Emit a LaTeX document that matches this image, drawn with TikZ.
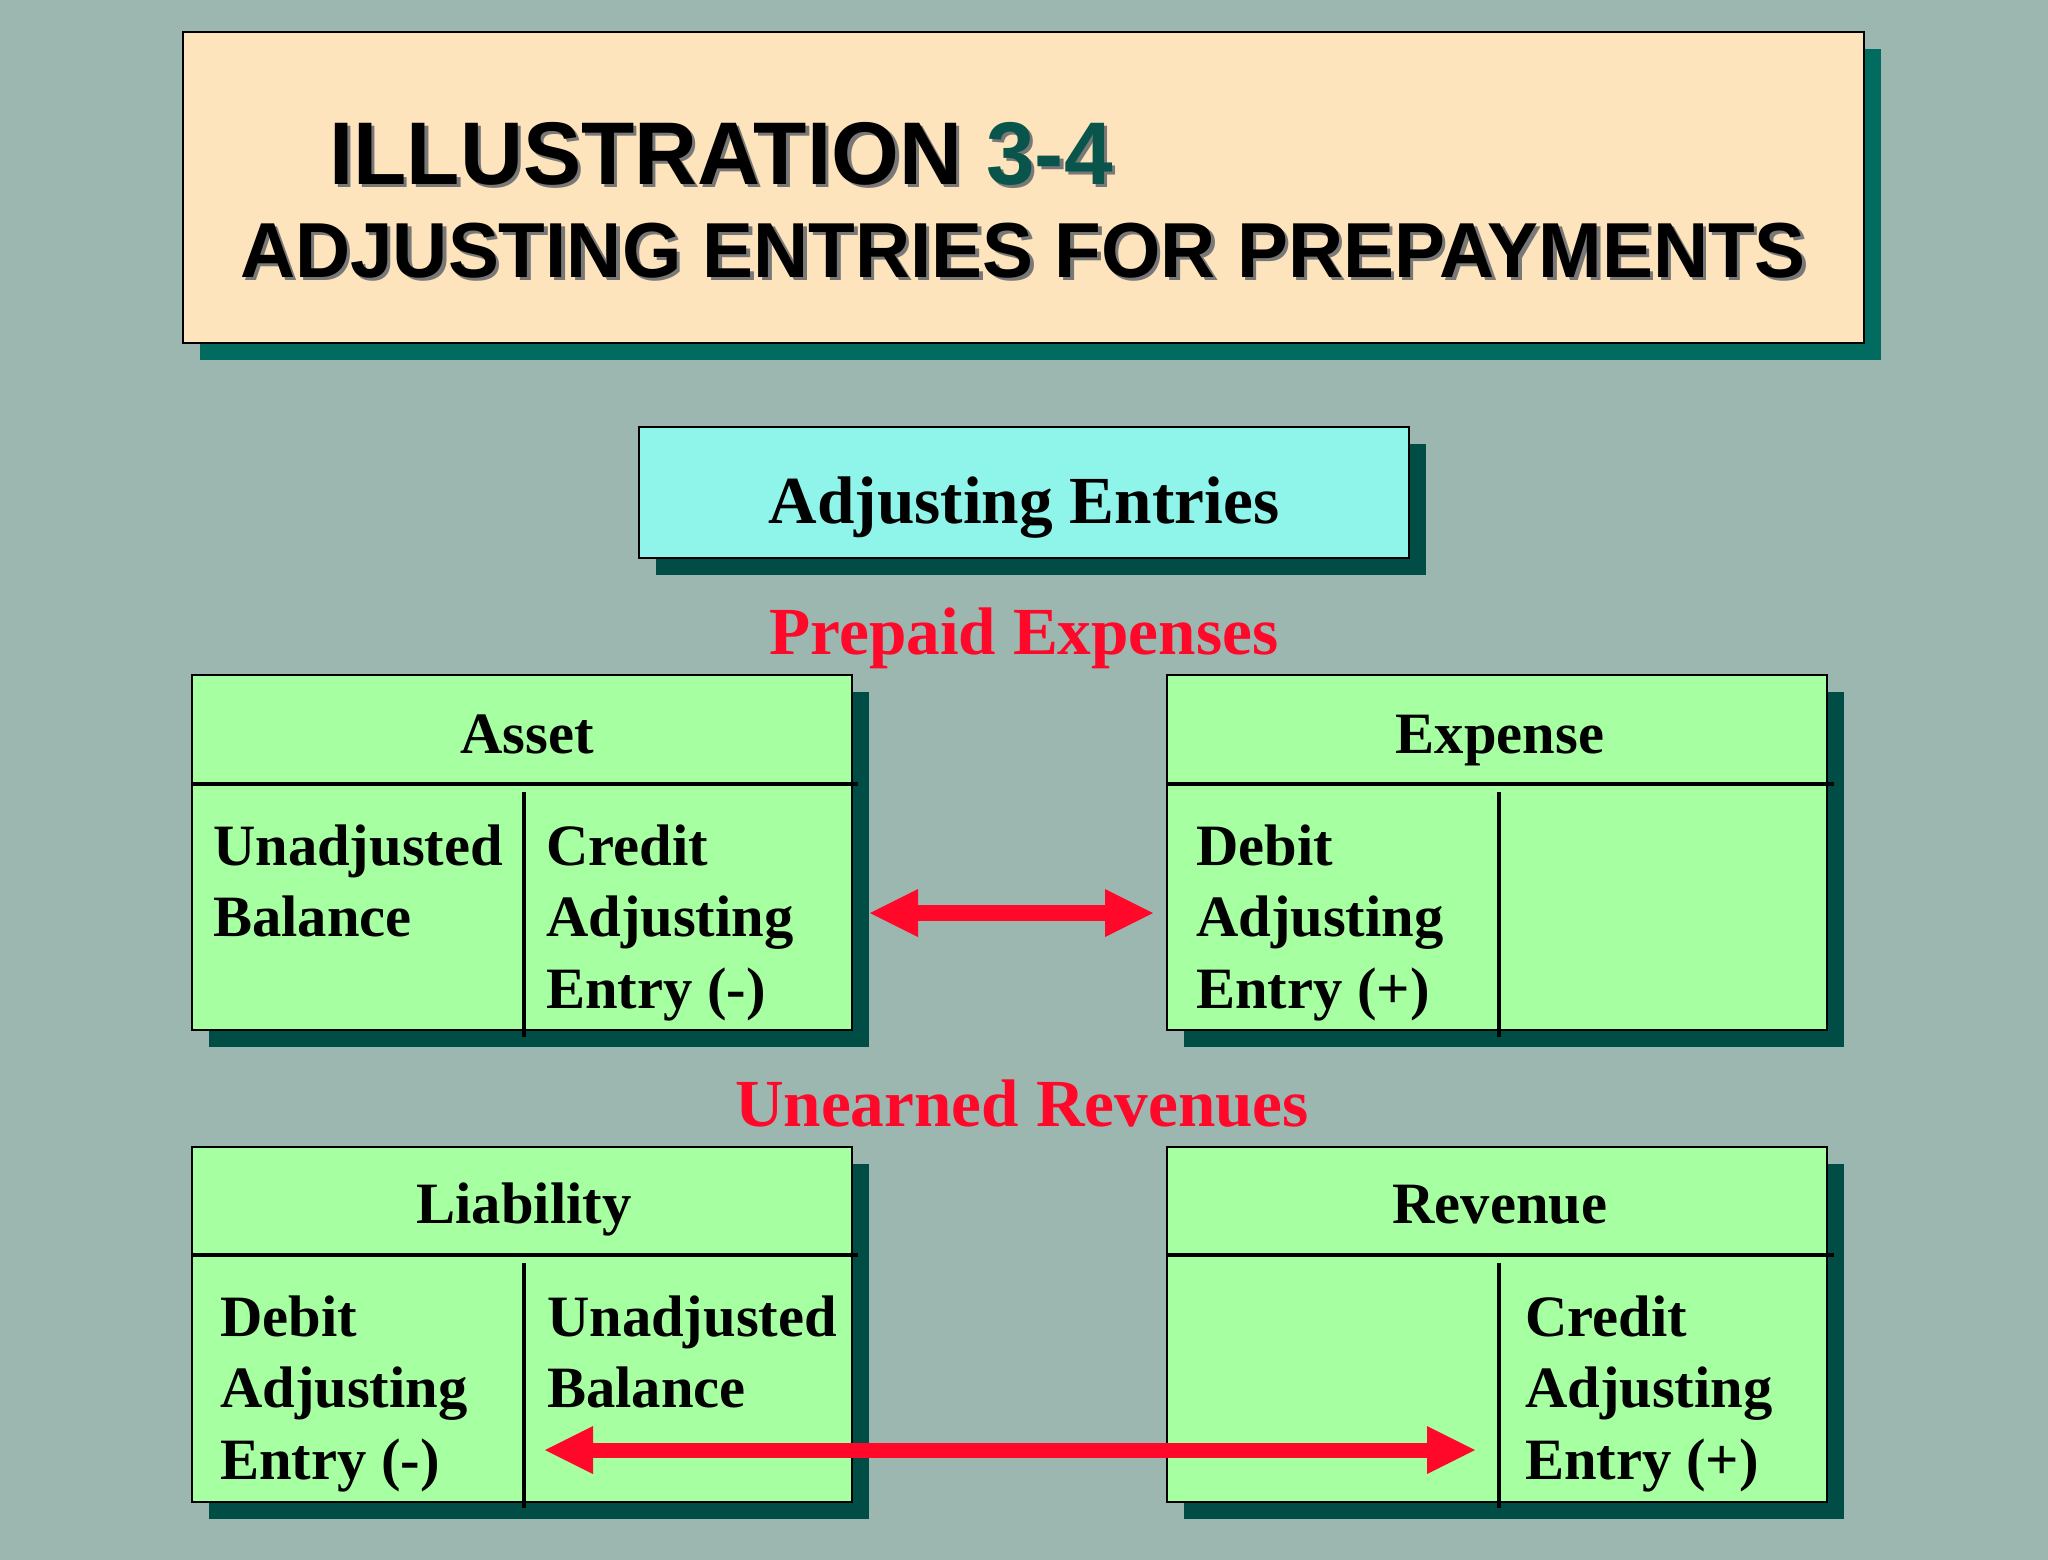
\documentclass[tikz,border=0pt]{standalone}
\usepackage{fontspec}
\setmainfont{Liberation Serif}
\newfontfamily\titlefont{Liberation Sans}
\usetikzlibrary{arrows.meta,shadows}
\definecolor{bg}{RGB}{155,183,176}
\definecolor{peach}{RGB}{253,228,188}
\definecolor{titleshadow}{RGB}{0,107,94}
\definecolor{aqua}{RGB}{143,245,235}
\definecolor{darkshadow}{RGB}{0,77,69}
\definecolor{tgreen}{RGB}{166,255,161}
\definecolor{redtxt}{RGB}{255,8,42}
\definecolor{numcol}{RGB}{10,85,75}
\definecolor{txtshadow}{RGB}{120,120,120}
\begin{document}
\begin{tikzpicture}[x=1pt,y=-1pt,
  box/.style={draw=black, line width=2.5pt, anchor=north west, inner sep=0pt, outer sep=0pt},
  shadowed/.style={general shadow={fill=#1, shadow xshift=17pt, shadow yshift=-17pt}},
  tacct/.style={box, fill=tgreen, shadowed=darkshadow, minimum width=660pt, minimum height=355pt},
  tline/.style={line width=4pt},
  body/.style={inner sep=0pt, anchor=base west, font=\bfseries\fontsize{58.6}{58.6}\selectfont},
  head/.style={inner sep=0pt, anchor=base, font=\bfseries\fontsize{58.6}{58.6}\selectfont},
  redlbl/.style={inner sep=0pt, anchor=base, text=redtxt, font=\bfseries\fontsize{67.3}{67.3}\selectfont},
  bigarrow/.style={draw=redtxt, line width=16pt,
    {Triangle[length=48pt,width=48pt,line width=0pt]}-{Triangle[length=48pt,width=48pt,line width=0pt]}}
]
\useasboundingbox (0,0) rectangle (2048,1560);
\fill[bg] (0,0) rectangle (2048,1560);

% title box
\node[box, fill=peach, shadowed=titleshadow, minimum width=1681pt, minimum height=311pt] (title) at (183,32) {};
\node[inner sep=0pt, anchor=base west, text=txtshadow, font=\titlefont\bfseries\fontsize{89}{89}\selectfont] (t1s) at (332.5,187.5) {\scalebox{0.98}[1]{ILLUSTRATION 3-4}};
\node[inner sep=0pt, anchor=base west, font=\titlefont\bfseries\fontsize{89}{89}\selectfont] (t1) at (329,184) {\scalebox{0.98}[1]{ILLUSTRATION \textcolor{numcol}{3-4}}};
\node[inner sep=0pt, anchor=base west, text=txtshadow, font=\titlefont\bfseries\fontsize{78}{78}\selectfont] (t2s) at (243.5,280.5) {\scalebox{0.979}[1]{ADJUSTING ENTRIES FOR PREPAYMENTS}};
\node[inner sep=0pt, anchor=base west, font=\titlefont\bfseries\fontsize{78}{78}\selectfont] (t2) at (240,277) {\scalebox{0.979}[1]{ADJUSTING ENTRIES FOR PREPAYMENTS}};

% adjusting entries box
\node[box, fill=aqua, shadowed=darkshadow, minimum width=770pt, minimum height=131pt] (adj) at (639,427) {};
\node[head, font=\bfseries\fontsize{67.3}{67.3}\selectfont] (adjtxt) at (1024,523) {Adjusting Entries};

% red labels
\node[redlbl] (prep) at (1024,654) {Prepaid Expenses};
\node[redlbl] (unearn) at (1022,1126) {Unearned Revenues};

% T accounts
\node[tacct] (asset) at (192,675) {};
\node[tacct] (expense) at (1167,675) {};
\node[tacct] (liab) at (192,1147) {};
\node[tacct] (rev) at (1167,1147) {};

\draw[tline] (192,784) -- (858,784);
\draw[tline] (524,792) -- (524,1037);
\draw[tline] (1167,784) -- (1834,784);
\draw[tline] (1499,792) -- (1499,1037);
\draw[tline] (192,1255) -- (858,1255);
\draw[tline] (524,1263) -- (524,1508);
\draw[tline] (1167,1255) -- (1834,1255);
\draw[tline] (1499,1263) -- (1499,1508);

% headers
\node[head] (hasset) at (527,753) {Asset};
\node[head] (hexp) at (1500,753) {Expense};
\node[head] (hliab) at (524,1223) {Liability};
\node[head] (hrev) at (1500,1223) {Revenue};

% asset body
\node[body] (a1) at (213,865) {Unadjusted};
\node[body] (a2) at (213,936) {Balance};
\node[body] (a3) at (546,865) {Credit};
\node[body] (a4) at (546,936) {Adjusting};
\node[body] (a5) at (546,1008) {Entry (-)};
% expense body
\node[body] (e1) at (1196,865) {Debit};
\node[body] (e2) at (1196,936) {Adjusting};
\node[body] (e3) at (1196,1008) {Entry (+)};
% liability body
\node[body] (l1) at (220,1336) {Debit};
\node[body] (l2) at (220,1407) {Adjusting};
\node[body] (l3) at (220,1479) {Entry (-)};
\node[body] (l4) at (547,1336) {Unadjusted};
\node[body] (l5) at (547,1407) {Balance};
% revenue body
\node[body] (r1) at (1525,1336) {Credit};
\node[body] (r2) at (1525,1407) {Adjusting};
\node[body] (r3) at (1525,1479) {Entry (+)};

% arrows
\coordinate (topL) at (870,913);
\coordinate (topR) at (1153,913);
\coordinate (botL) at (545,1450);
\coordinate (botR) at (1475,1450);
\draw[bigarrow] (topL) -- (topR);
\draw[bigarrow, line width=15pt] (botL) -- (botR);
\end{tikzpicture}
\end{document}
